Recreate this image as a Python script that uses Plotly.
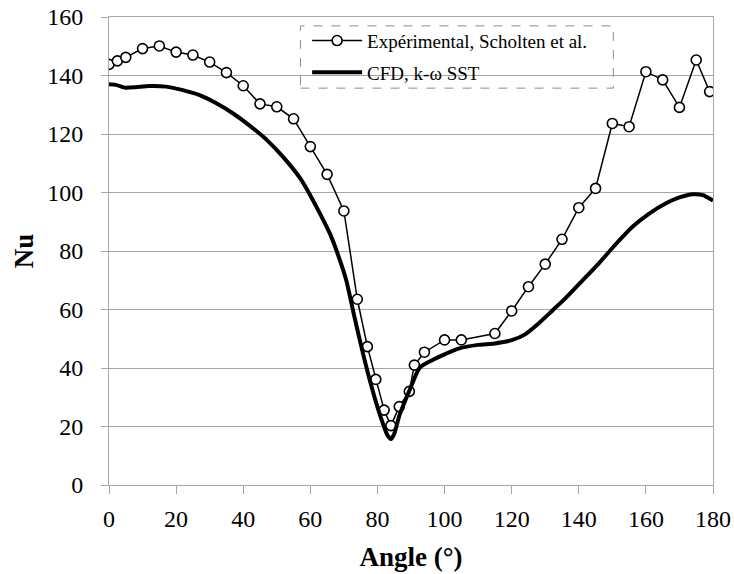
import plotly.graph_objects as go

exp_angle = [0, 2.5, 5, 10, 15, 20, 25, 30, 35, 40, 45, 50, 55, 60, 65, 70,
             74, 77, 79.5, 82, 84, 86.5, 89.5, 91, 94, 100, 105, 115, 120,
             125, 130, 135, 140, 145, 150, 155, 160, 165, 170, 175, 179]
exp_nu = [143.8, 145, 146.2, 149.2, 150.1, 148, 147, 144.6, 141, 136.5, 130.3,
          129.3, 125.2, 115.7, 106.2, 93.7, 63.5, 47.3, 36.1, 25.6, 20.3, 26.8,
          32, 41, 45.4, 49.6, 49.6, 51.8, 59.5, 67.8, 75.5, 84, 94.8, 101.4,
          123.6, 122.5, 141.3, 138.5, 129.1, 145.3, 134.5]

cfd_angle = [0, 2, 5, 8, 12, 17, 22, 27, 32, 37, 42, 47, 52, 57, 60, 63, 66,
             68, 70.7, 72.9, 75.2, 77.7, 80.6, 83, 84, 85, 86.6, 89.6, 92, 93,
             96, 98.5, 104.4, 110, 115, 120, 124, 128, 132, 136, 141, 146, 151,
             156, 161, 166, 170, 174, 177, 179.3, 180]
cfd_nu = [137, 136.8, 135.8, 136, 136.4, 136.2, 135, 133.3, 130.5, 127, 122.8,
          118, 112, 104.8, 99, 92.5, 85.5, 79.5, 70, 58.7, 47.3, 35.9, 24.5, 17,
          15.7, 17.5, 24, 32.5, 39, 40.5, 42.5, 43.9, 46.7, 47.9, 48.4, 49.5,
          51.5, 55.2, 59.5, 63.8, 69.8, 75.8, 82.3, 88.3, 92.8, 96.3, 98.3,
          99.4, 99.1, 97.7, 97.3]

x_ticks = [0, 20, 40, 60, 80, 100, 120, 140, 160, 180]
y_ticks = [0, 20, 40, 60, 80, 100, 120, 140, 160]

FONT = "Liberation Serif"
GRID = "#a6a6a6"

fig = go.Figure()
fig.add_trace(go.Scatter(
    x=exp_angle, y=exp_nu, mode="lines+markers",
    name="Expérimental, Scholten et al.", legendgroup="a",
    line=dict(color="black", width=1.5),
    marker=dict(symbol="circle", size=10, color="white",
                line=dict(color="black", width=1.6)),
))
fig.add_trace(go.Scatter(
    x=cfd_angle, y=cfd_nu, mode="lines", name="CFD, k-ω SST", legendgroup="b",
    line=dict(color="black", width=4, shape="spline", smoothing=0.6),
))

fig.update_layout(
    width=734, height=574,
    margin=dict(l=109, r=21, t=17, b=89),
    paper_bgcolor="white", plot_bgcolor="white",
    font=dict(family=FONT, size=24, color="black"),
    legend=dict(x=0.328, y=0.99, xanchor="left", yanchor="top",
                bgcolor="rgba(0,0,0,0)", borderwidth=0,
                font=dict(family=FONT, size=19, color="black"),
                itemwidth=50, traceorder="grouped", tracegroupgap=4),
    xaxis=dict(range=[0, 180], tickvals=x_ticks, ticks="outside", ticklen=8,
               tickcolor=GRID, showgrid=False, zeroline=False, showline=True,
               linecolor=GRID, linewidth=1, mirror=True, automargin=False,
               ticklabelstandoff=4,
               tickfont=dict(family=FONT, size=24),
               title=dict(text="<b>Angle (°)</b>",
                          font=dict(family=FONT, size=27), standoff=16)),
    yaxis=dict(range=[0, 160], tickvals=y_ticks, ticks="outside", ticklen=7,
               tickcolor=GRID, showgrid=True, gridcolor=GRID, gridwidth=1,
               zeroline=False, showline=True, linecolor=GRID, linewidth=1,
               mirror=True, automargin=False, ticklabelstandoff=13,
               tickfont=dict(family=FONT, size=24),
               title=dict(text="<b>Nu</b>",
                          font=dict(family=FONT, size=27), standoff=5)),
    shapes=[dict(type="rect", xref="paper", yref="paper",
                 x0=0.317, x1=0.835, y0=0.848, y1=0.981,
                 line=dict(color="#8c8c8c", width=1, dash="dash"),
                 fillcolor="rgba(0,0,0,0)", layer="above")],
)

fig.write_html("out.html", config={"displayModeBar": False},
               post_script="document.body.style.margin='0';document.body.style.padding='0';")
